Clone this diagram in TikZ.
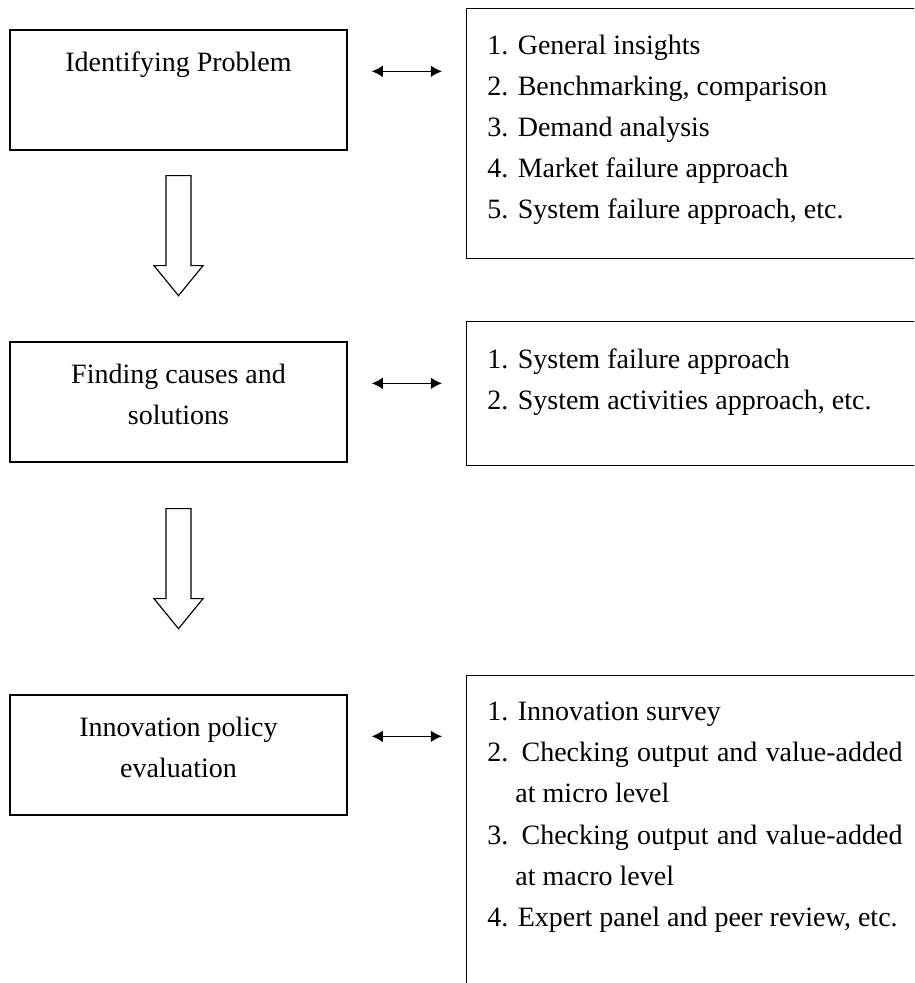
\documentclass[tikz,border=0pt]{standalone}
\usepackage{fontspec}
\setmainfont{Liberation Serif}
\usepackage{tikz}
\usetikzlibrary{positioning, calc, arrows.meta}

\newcommand{\listitem}[2]{\noindent\hangindent=1em\hangafter=1 #1 #2\par}

\tikzset{
    stage/.style={draw, line width=0.6pt, minimum width=144.4pt, minimum height=51.4pt, inner sep=0pt},
    stagetext/.style={align=center, inner sep=0pt, font=\fontsize{12}{17.6}\selectfont},
    methodbox/.style={draw, line width=0.6pt, anchor=north west, minimum width=203pt, inner sep=0pt},
    methodtext/.style={inner sep=0pt, text width=177.9pt, align=justify, font=\fontsize{12}{17.6}\selectfont},
    link/.style={arrows={Latex[length=4.8pt,width=5pt]-Latex[length=4.8pt,width=5pt]}, line width=0.6pt},
    bigarrow/.style={draw, line width=0.5pt, line join=miter}
}

\begin{document}
\begin{tikzpicture}[x=0.4286pt, y=-0.4286pt]
    \useasboundingbox (0,0) rectangle (914,983);
    \clip (0,0) rectangle (914,983);
    % stages
    \node[stage] (prob) at (178.5,90) {};
    \node[stage] (cause) at (178.5,402) {};
    \node[stage] (eval) at (178.5,755) {};
    \node[stagetext, below=9.6pt of prob.north] (probtxt) {Identifying Problem};
    \node[stagetext, below=9.6pt of cause.north] (causetxt) {Finding causes and\\solutions};
    \node[stagetext, below=9.6pt of eval.north] (evaltxt) {Innovation policy\\evaluation};
    % methods
    \node[methodbox, minimum height=107.1pt] (insight) at (466,8) {};
    \node[methodbox, minimum height=61.7pt] (approach) at (466,321) {};
    \node[methodbox, minimum height=139.3pt] (survey) at (466,675) {};
    \node[methodtext, below right=11.5pt and 9pt of insight.north west] (insighttxt) {%
        \listitem{1.}{General insights}
        \listitem{2.}{Benchmarking, comparison}
        \listitem{3.}{Demand analysis}
        \listitem{4.}{Market failure approach}
        \listitem{5.}{System failure approach, etc.}};
    \node[methodtext, below right=11.5pt and 9pt of approach.north west] (approachtxt) {%
        \listitem{1.}{System failure approach}
        \listitem{2.}{System activities approach, etc.}};
    \node[methodtext, below right=11.5pt and 9pt of survey.north west] (surveytxt) {%
        \listitem{1.}{Innovation survey}
        \listitem{2.}{Checking output and value-added at micro level}
        \listitem{3.}{Checking output and value-added at macro level}
        \listitem{4.}{Expert panel and peer review, etc.}};
    % links
    \draw[link] ($(prob.north east)+(24,42)$) -- ($(prob.north east -| insight.west)+(-24,42)$);
    \draw[link] ($(cause.north east)+(24,42)$) -- ($(cause.north east -| approach.west)+(-24,42)$);
    \draw[link] ($(eval.north east)+(24,42)$) -- ($(eval.north east -| survey.west)+(-24,42)$);
    % block arrows
    \draw[bigarrow] ($(prob.south)+(-12.5,25)$) -- ++(0,90) -- ++(-12,0) -- ++(24.5,30) -- ++(24.5,-30) -- ++(-12,0) -- ++(0,-90) -- cycle;
    \draw[bigarrow] ($(cause.south)+(-12.5,46)$) -- ++(0,90) -- ++(-12,0) -- ++(24.5,30) -- ++(24.5,-30) -- ++(-12,0) -- ++(0,-90) -- cycle;
\end{tikzpicture}
\end{document}
